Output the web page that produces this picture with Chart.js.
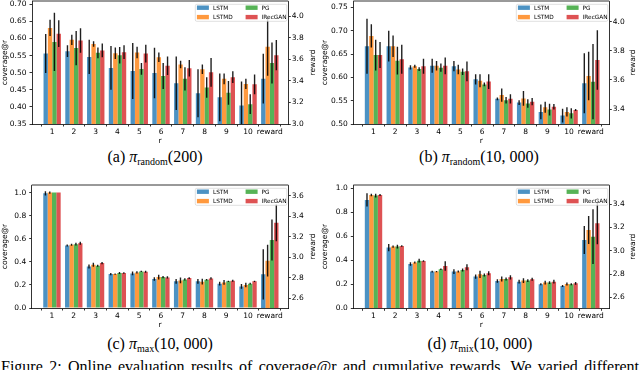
<!DOCTYPE html>
<html><head><meta charset="utf-8">
<script src="https://cdn.jsdelivr.net/npm/chart.js@4/dist/chart.umd.min.js"></script>
<style>
html,body{margin:0;padding:0;background:#fff;width:640px;height:370px;overflow:hidden;position:relative}
canvas{position:absolute}
.cap{position:absolute;font-family:'Liberation Serif','DejaVu Serif',serif;font-size:16px;line-height:16px;color:#000;white-space:nowrap;transform:translateX(-50%)}
.cap .sb{font-size:10px;position:relative;top:3px}
.fig{position:absolute;left:1px;width:638px;top:359px;font-family:'Liberation Serif','DejaVu Serif',serif;font-size:16px;line-height:16px;color:#000;white-space:nowrap;text-align:justify;text-align-last:justify}
</style></head><body>
<canvas id="ca" width="320" height="148" style="left:0;top:0"></canvas>
<canvas id="cb" width="320" height="148" style="left:320px;top:0"></canvas>
<canvas id="cc" width="320" height="152" style="left:0;top:180px"></canvas>
<canvas id="cd" width="320" height="152" style="left:320px;top:180px"></canvas>
<div class="cap" style="left:155px;top:149px">(a) <i>π</i><span class="sb">random</span>(200)</div>
<div class="cap" style="left:479px;top:149px">(b) <i>π</i><span class="sb">random</span>(10, 000)</div>
<div class="cap" style="left:160px;top:336px">(c) <i>π</i><span class="sb">max</span>(10, 000)</div>
<div class="cap" style="left:480px;top:336px">(d) <i>π</i><span class="sb">mix</span>(10, 000)</div>
<div class="fig">Figure 2: Online evaluation results of coverage@r and cumulative rewards. We varied different</div>
<script>
// ---------- data ----------
const xTicks = [1,2,3,4,5,6,7,8,9,10,11];
const xLabels = ['1','2','3','4','5','6','7','8','9','10','reward'];
const seriesNames = ['LSTM','LSTMD','PG','IRecGAN'];

// (a) pi_random(200)
const aLSTM     = [0.556,0.563,0.546,0.514,0.505,0.499,0.469,0.440,0.428,0.404];
const aLSTMErr  = [0.057,0.017,0.050,0.064,0.082,0.074,0.078,0.070,0.070,0.070];
const aLSTMD    = [0.631,0.596,0.584,0.557,0.559,0.545,0.524,0.510,0.482,0.467];
const aLSTMDErr = [0.024,0.015,0.008,0.017,0.017,0.014,0.011,0.014,0.016,0.015];
const aPG       = [0.590,0.572,0.558,0.551,0.511,0.490,0.482,0.457,0.441,0.408];
const aPGErr    = [0.085,0.050,0.016,0.024,0.017,0.038,0.034,0.030,0.035,0.029];
const aIRG      = [0.614,0.594,0.565,0.560,0.556,0.520,0.513,0.501,0.487,0.466];
const aIRGErr   = [0.039,0.036,0.020,0.020,0.026,0.027,0.024,0.042,0.017,0.029];
const aReward    = [3.42,3.716,3.565,3.637];
const aRewardErr = [0.23,0.27,0.19,0.14];
const aLeftTicks  = [0.35,0.40,0.45,0.50,0.55,0.60,0.65,0.70];
const aLeftLabels = ['0.35','0.40','0.45','0.50','0.55','0.60','0.65','0.70'];
const aRightTicks  = [3.0,3.2,3.4,3.6,3.8,4.0];
const aRightLabels = ['3.0','3.2','3.4','3.6','3.8','4.0'];

// (b) pi_random(10,000)
const bLSTM     = [0.667,0.667,0.6215,0.625,0.624,0.596,0.554,0.546,0.526,0.518];
const bLSTMErr  = [0.059,0.033,0.0045,0.015,0.011,0.011,0.003,0.005,0.016,0.015];
const bLSTMD    = [0.689,0.667,0.624,0.625,0.617,0.593,0.562,0.555,0.536,0.526];
const bLSTMDErr = [0.025,0.023,0.003,0.010,0.010,0.014,0.014,0.016,0.012,0.010];
const bPG       = [0.648,0.636,0.618,0.621,0.612,0.585,0.551,0.544,0.531,0.523];
const bPGErr    = [0.033,0.030,0.004,0.009,0.007,0.004,0.007,0.009,0.0125,0.011];
const bIRG      = [0.648,0.639,0.624,0.625,0.613,0.591,0.554,0.548,0.537,0.530];
const bIRGErr   = [0.028,0.031,0.016,0.018,0.021,0.016,0.010,0.008,0.006,0.002];
const bReward    = [3.577,3.627,3.588,3.737];
const bRewardErr = [0.206,0.166,0.258,0.204];
const bLeftTicks  = [0.50,0.55,0.60,0.65,0.70,0.75];
const bLeftLabels = ['0.50','0.55','0.60','0.65','0.70','0.75'];
const bRightTicks  = [3.4,3.6,3.8,4.0];
const bRightLabels = ['3.4','3.6','3.8','4.0'];

// (c) pi_max(10,000)
const cLSTM     = [0.994,0.542,0.360,0.294,0.300,0.251,0.231,0.231,0.211,0.187];
const cLSTMErr  = [0.018,0.008,0.017,0.010,0.017,0.015,0.020,0.020,0.017,0.020];
const cLSTMD    = [1.000,0.548,0.375,0.294,0.308,0.268,0.239,0.228,0.222,0.199];
const cLSTMDErr = [0.010,0.008,0.017,0.006,0.010,0.020,0.025,0.025,0.020,0.020];
const cPG       = [1.000,0.553,0.366,0.303,0.317,0.268,0.248,0.245,0.231,0.211];
const cPGErr    = [0.000,0.012,0.009,0.008,0.006,0.010,0.010,0.007,0.006,0.008];
const cIRG      = [1.000,0.561,0.389,0.303,0.314,0.265,0.259,0.256,0.236,0.231];
const cIRGErr   = [0.000,0.013,0.009,0.007,0.008,0.010,0.007,0.010,0.008,0.006];
const cReward    = [2.834,2.967,3.168,3.337];
const cRewardErr = [0.244,0.154,0.200,0.180];
const cLeftTicks  = [0.0,0.2,0.4,0.6,0.8,1.0];
const cLeftLabels = ['0.0','0.2','0.4','0.6','0.8','1.0'];
const cRightTicks  = [2.6,2.8,3.0,3.2,3.4,3.6];
const cRightLabels = ['2.6','2.8','3.0','3.2','3.4','3.6'];

// (d) pi_mix(10,000)
const dLSTM     = [0.903,0.506,0.369,0.306,0.306,0.264,0.228,0.222,0.200,0.186];
const dLSTMErr  = [0.055,0.030,0.015,0.007,0.020,0.017,0.015,0.015,0.008,0.008];
const dLSTMD    = [0.944,0.514,0.381,0.306,0.306,0.283,0.244,0.231,0.214,0.203];
const dLSTMDErr = [0.010,0.010,0.008,0.005,0.008,0.030,0.020,0.020,0.015,0.012];
const dPG       = [0.939,0.514,0.397,0.325,0.319,0.278,0.244,0.231,0.214,0.200];
const dPGErr    = [0.015,0.015,0.015,0.006,0.012,0.012,0.012,0.012,0.012,0.008];
const dIRG      = [0.944,0.519,0.394,0.353,0.342,0.292,0.258,0.242,0.222,0.208];
const dIRGErr   = [0.008,0.006,0.007,0.040,0.025,0.017,0.017,0.012,0.015,0.012];
const dReward    = [3.091,3.177,3.120,3.235];
const dRewardErr = [0.120,0.120,0.235,0.180];
const dLeftTicks  = [0.0,0.2,0.4,0.6,0.8,1.0];
const dLeftLabels = ['0.0','0.2','0.4','0.6','0.8','1.0'];
const dRightTicks  = [2.6,2.8,3.0,3.2,3.4];
const dRightLabels = ['2.6','2.8','3.0','3.2','3.4'];

// ---------- style ----------
const colors = ['rgba(31,119,180,0.8)','rgba(255,127,14,0.8)','rgba(44,160,44,0.8)','rgba(214,39,40,0.8)'];
const FONT = 'DejaVu Sans';
const tickFont = {family: FONT, size: 7.5};

const errorBars = {
  id: 'errorBars',
  afterDatasetsDraw(chart) {
    const {ctx, chartArea: a} = chart;
    ctx.save();
    ctx.beginPath(); ctx.rect(a.left, a.top, a.right - a.left, a.bottom - a.top); ctx.clip();
    ctx.strokeStyle = 'rgba(0,0,0,0.88)'; ctx.lineWidth = 1.4;
    chart.data.datasets.forEach((ds, di) => {
      const meta = chart.getDatasetMeta(di);
      const ys = chart.scales[ds.yAxisID];
      meta.data.forEach((bar, i) => {
        const v = ds.data[i].y, e = ds.errors[i];
        if (!e) return;
        ctx.beginPath();
        ctx.moveTo(bar.x, ys.getPixelForValue(v - e));
        ctx.lineTo(bar.x, ys.getPixelForValue(v + e));
        ctx.stroke();
      });
    });
    ctx.restore();
  }
};
const frameTop = {
  id: 'frameTop',
  afterDatasetsDraw(chart) {
    const {ctx, chartArea: a} = chart;
    ctx.save(); ctx.strokeStyle = '#000'; ctx.lineWidth = 0.8;
    ctx.beginPath(); ctx.moveTo(a.left, a.top); ctx.lineTo(a.right, a.top); ctx.stroke();
    ctx.restore();
  }
};
const mplLegend = {
  id: 'mplLegend',
  afterDraw(chart) {
    const {ctx, chartArea: a} = chart;
    const bw = 91.5, bh = 17, x0 = a.right - 1.5 - bw, y0 = a.top + 3.3, r = 1.5;
    ctx.save();
    ctx.beginPath();
    ctx.moveTo(x0 + r, y0); ctx.lineTo(x0 + bw - r, y0); ctx.quadraticCurveTo(x0 + bw, y0, x0 + bw, y0 + r);
    ctx.lineTo(x0 + bw, y0 + bh - r); ctx.quadraticCurveTo(x0 + bw, y0 + bh, x0 + bw - r, y0 + bh);
    ctx.lineTo(x0 + r, y0 + bh); ctx.quadraticCurveTo(x0, y0 + bh, x0, y0 + bh - r);
    ctx.lineTo(x0, y0 + r); ctx.quadraticCurveTo(x0, y0, x0 + r, y0); ctx.closePath();
    ctx.fillStyle = 'rgba(255,255,255,0.8)'; ctx.fill();
    ctx.strokeStyle = 'rgba(204,204,204,0.8)'; ctx.lineWidth = 0.8; ctx.stroke();
    ctx.font = '5.8px "' + FONT + '"'; ctx.textBaseline = 'middle'; ctx.textAlign = 'left';
    seriesNames.forEach((name, k) => {
      const col = k < 2 ? 0 : 1, row = k % 2;
      const sx = x0 + 1.6 + col * 48.7, sy = y0 + 3.4 + row * 9.4;
      ctx.fillStyle = colors[k]; ctx.fillRect(sx, sy - 2.2, 12, 4.4);
      ctx.fillStyle = '#000'; ctx.fillText(name, sx + 16, sy + 0.3);
    });
    ctx.restore();
  }
};
const rightTitle = {
  id: 'rightTitle',
  afterDraw(chart) {
    const {ctx, chartArea: a} = chart;
    ctx.save();
    ctx.translate(chart.width - 7, (a.top + a.bottom) / 2);
    ctx.rotate(-Math.PI / 2);
    ctx.font = '7.5px "' + FONT + '"'; ctx.textAlign = 'center'; ctx.textBaseline = 'middle'; ctx.fillStyle = '#000';
    ctx.fillText('reward', 0, 0);
    ctx.restore();
  }
};

function zeroPad(s) { s.paddingLeft = 0; s.paddingRight = 0; s.paddingTop = 0; s.paddingBottom = 0; }

function makeChart(p) {
  const datasets = [];
  p.series.forEach((vals, k) => datasets.push({
    label: seriesNames[k], data: vals.map((v, i) => ({x: xTicks[i], y: v})), errors: p.errs[k],
    backgroundColor: colors[k], borderWidth: 0, yAxisID: 'yL', xAxisID: 'x', stack: 'g' + k,
    categoryPercentage: 0.8, barPercentage: 1, clip: 0
  }));
  p.reward.forEach((v, k) => datasets.push({
    label: seriesNames[k], data: [{x: xTicks[10], y: v}], errors: [p.rewardErr[k]],
    backgroundColor: colors[k], borderWidth: 0, yAxisID: 'yR', xAxisID: 'x', stack: 'g' + k,
    categoryPercentage: 0.8, barPercentage: 1, clip: 0
  }));
  const grid = {drawOnChartArea: false, drawTicks: true, tickLength: 2.5, color: '#000', lineWidth: 0.8};
  const border = {display: true, color: '#000', width: 0.8};
  new Chart(document.getElementById(p.id), {
    type: 'bar',
    data: {datasets},
    options: {
      responsive: false, animation: false, devicePixelRatio: 1,
      layout: {padding: {top: p.area.t, left: 0, right: 0, bottom: 0}},
      plugins: {legend: {display: false}, tooltip: {enabled: false}},
      scales: {
        x: {
          type: 'linear', position: 'bottom', min: 0.07, max: 11.85, bounds: 'data', offset: false,
          afterBuildTicks: s => { s.ticks = xTicks.map(v => ({value: v})); },
          afterFit: s => { s.height = p.h - p.area.b; zeroPad(s); },
          ticks: {autoSkip: false, maxRotation: 0, minRotation: 0, padding: 1, color: '#000', font: tickFont,
                  callback: (v, i) => xLabels[i]},
          grid, border,
          title: {display: true, text: 'r', color: '#000', font: tickFont, padding: {top: 0, bottom: 2}}
        },
        yL: {
          type: 'linear', position: 'left', min: p.yL[0], max: p.yL[1], bounds: 'data', stacked: false,
          afterBuildTicks: s => { s.ticks = p.lt.map(v => ({value: v})); },
          afterFit: s => { s.width = p.area.l; zeroPad(s); },
          ticks: {autoSkip: false, padding: 3, color: '#000', font: tickFont, callback: (v, i) => p.ll[i]},
          grid, border,
          title: {display: true, text: 'coverage@r', color: '#000', font: tickFont, padding: {top: 1, bottom: 0}}
        },
        yR: {
          type: 'linear', position: 'right', min: p.yR[0], max: p.yR[1], bounds: 'data', stacked: false,
          afterBuildTicks: s => { s.ticks = p.rt.map(v => ({value: v})); },
          afterFit: s => { s.width = p.w - p.area.r; zeroPad(s); },
          ticks: {autoSkip: false, padding: 1, color: '#000', font: tickFont, callback: (v, i) => p.rl[i]},
          grid, border
        }
      }
    },
    plugins: [errorBars, frameTop, mplLegend, rightTitle]
  });
}

makeChart({id: 'ca', w: 320, h: 148, area: {l: 32, r: 288.3, t: 1, b: 124},
  yL: [0.35, 0.7096], yR: [3.0, 4.139], lt: aLeftTicks, ll: aLeftLabels, rt: aRightTicks, rl: aRightLabels,
  series: [aLSTM, aLSTMD, aPG, aIRG], errs: [aLSTMErr, aLSTMDErr, aPGErr, aIRGErr], reward: aReward, rewardErr: aRewardErr});
makeChart({id: 'cb', w: 320, h: 148, area: {l: 33.3, r: 289.3, t: 1, b: 124},
  yL: [0.50, 0.764], yR: [3.297, 4.142], lt: bLeftTicks, ll: bLeftLabels, rt: bRightTicks, rl: bRightLabels,
  series: [bLSTM, bLSTMD, bPG, bIRG], errs: [bLSTMErr, bLSTMDErr, bPGErr, bIRGErr], reward: bReward, rewardErr: bRewardErr});
makeChart({id: 'cc', w: 320, h: 152, area: {l: 31.7, r: 288.3, t: 5, b: 128},
  yL: [0, 1.066], yR: [2.506, 3.704], lt: cLeftTicks, ll: cLeftLabels, rt: cRightTicks, rl: cRightLabels,
  series: [cLSTM, cLSTMD, cPG, cIRG], errs: [cLSTMErr, cLSTMDErr, cPGErr, cIRGErr], reward: cReward, rewardErr: cRewardErr});
makeChart({id: 'cd', w: 320, h: 152, area: {l: 33.3, r: 289.3, t: 5, b: 128.3},
  yL: [0, 1.0275], yR: [2.506, 3.563], lt: dLeftTicks, ll: dLeftLabels, rt: dRightTicks, rl: dRightLabels,
  series: [dLSTM, dLSTMD, dPG, dIRG], errs: [dLSTMErr, dLSTMDErr, dPGErr, dIRGErr], reward: dReward, rewardErr: dRewardErr});
</script>
</body></html>
